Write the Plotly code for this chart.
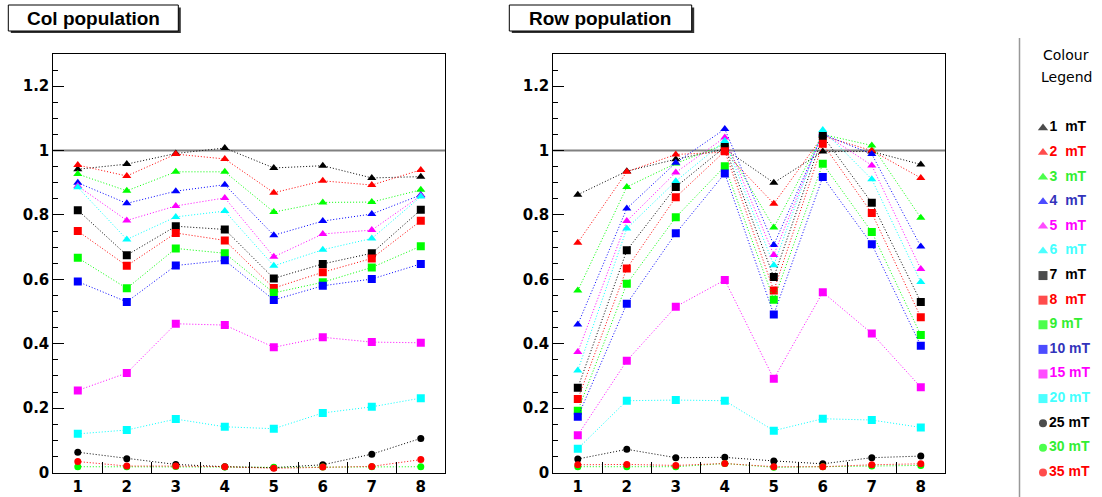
import plotly.graph_objects as go

W, H = 1102, 497

positions = [1, 2, 3, 4, 5, 6, 7, 8]
x_labels = ["1", "2", "3", "4", "5", "6", "7", "8"]
y_ticks = [0, 0.2, 0.4, 0.6, 0.8, 1.0, 1.2]
y_labels = ["0", "0.2", "0.4", "0.6", "0.8", "1", "1.2"]

fields = ["1", "2", "3", "4", "5", "6", "7", "8", "9", "10", "15", "20", "25", "30", "35"]
legend_labels = ["1\u00a0 mT", "2\u00a0 mT", "3\u00a0 mT", "4\u00a0 mT", "5\u00a0 mT", "6\u00a0 mT",
                 "7\u00a0 mT", "8\u00a0 mT", "9 mT", "10 mT", "15 mT", "20 mT", "25 mT", "30 mT", "35 mT"]
colors = ["#000000", "#ff0000", "#00ff00", "#0000ff", "#ff00ff", "#00ffff",
          "#000000", "#ff0000", "#00ff00", "#0000ff", "#ff00ff", "#00ffff",
          "#000000", "#00ff00", "#ff0000"]
legend_text_colors = ["#000000", "#ff0000", "#33ee33", "#3333bb", "#ff00ff", "#44ffff",
                      "#000000", "#ff0000", "#33ee33", "#3333bb", "#ff00ff", "#44ffff",
                      "#000000", "#33ee33", "#ff0000"]
symbols = ["triangle-up"] * 6 + ["square"] * 6 + ["circle"] * 3

# Col population
col_1 = [0.942, 0.958, 0.991, 1.008, 0.946, 0.953, 0.915, 0.919]
col_2 = [0.955, 0.921, 0.989, 0.974, 0.869, 0.906, 0.893, 0.940]
col_3 = [0.927, 0.875, 0.934, 0.934, 0.809, 0.839, 0.840, 0.878]
col_4 = [0.900, 0.836, 0.874, 0.894, 0.737, 0.781, 0.803, 0.862]
col_5 = [0.890, 0.783, 0.828, 0.853, 0.670, 0.741, 0.753, 0.860]
col_6 = [0.886, 0.724, 0.794, 0.812, 0.642, 0.692, 0.727, 0.857]
col_7 = [0.815, 0.675, 0.765, 0.755, 0.603, 0.648, 0.681, 0.816]
col_8 = [0.750, 0.642, 0.744, 0.721, 0.573, 0.622, 0.665, 0.782]
col_9 = [0.667, 0.572, 0.696, 0.681, 0.558, 0.591, 0.637, 0.703]
col_10 = [0.593, 0.530, 0.643, 0.659, 0.536, 0.580, 0.601, 0.648]
col_15 = [0.255, 0.309, 0.462, 0.458, 0.389, 0.420, 0.405, 0.403]
col_20 = [0.120, 0.132, 0.166, 0.142, 0.136, 0.185, 0.204, 0.231]
col_25 = [0.063, 0.043, 0.025, 0.018, 0.015, 0.024, 0.057, 0.106]
col_30 = [0.018, 0.018, 0.019, 0.017, 0.016, 0.017, 0.018, 0.018]
col_35 = [0.034, 0.020, 0.020, 0.018, 0.013, 0.017, 0.019, 0.040]

# Row population
row_1 = [0.863, 0.936, 0.973, 1.005, 0.900, 0.997, 0.997, 0.957]
row_2 = [0.714, 0.934, 0.988, 0.995, 0.835, 1.045, 1.000, 0.915]
row_3 = [0.565, 0.887, 0.960, 1.020, 0.761, 1.050, 1.016, 0.791]
row_4 = [0.460, 0.820, 0.962, 1.067, 0.707, 1.051, 0.989, 0.702]
row_5 = [0.374, 0.781, 0.932, 1.041, 0.676, 1.055, 0.954, 0.632]
row_6 = [0.317, 0.758, 0.905, 1.030, 0.644, 1.064, 0.911, 0.592]
row_7 = [0.263, 0.690, 0.887, 1.011, 0.607, 1.045, 0.838, 0.530]
row_8 = [0.228, 0.634, 0.855, 0.998, 0.565, 1.021, 0.806, 0.482]
row_9 = [0.192, 0.586, 0.793, 0.951, 0.537, 0.959, 0.747, 0.427]
row_10 = [0.173, 0.524, 0.743, 0.929, 0.491, 0.918, 0.709, 0.394]
row_15 = [0.116, 0.347, 0.515, 0.598, 0.291, 0.560, 0.432, 0.265]
row_20 = [0.074, 0.223, 0.225, 0.223, 0.130, 0.167, 0.163, 0.140]
row_25 = [0.042, 0.072, 0.046, 0.047, 0.036, 0.027, 0.046, 0.051]
row_30 = [0.018, 0.018, 0.018, 0.028, 0.016, 0.018, 0.020, 0.022]
row_35 = [0.024, 0.025, 0.022, 0.028, 0.018, 0.018, 0.024, 0.027]

col_series = [col_1, col_2, col_3, col_4, col_5, col_6, col_7, col_8, col_9, col_10,
              col_15, col_20, col_25, col_30, col_35]
row_series = [row_1, row_2, row_3, row_4, row_5, row_6, row_7, row_8, row_9, row_10,
              row_15, row_20, row_25, row_30, row_35]

legend_index = list(range(len(fields)))

fig = go.Figure()

def msize(sym):
    return {"triangle-up": 8, "square": 8, "circle": 7}[sym]

for panel, series in (("", col_series), ("2", row_series)):
    for i, vals in enumerate(series):
        fig.add_trace(go.Scatter(
            x=positions, y=vals, mode="lines+markers",
            xaxis="x" + panel, yaxis="y" + panel,
            line=dict(color=colors[i], width=1, dash="1px,2px"),
            marker=dict(symbol=symbols[i], size=msize(symbols[i]), color=colors[i],
                        line=dict(width=0)),
            name=fields[i] + " mT", showlegend=False, hoverinfo="skip",
        ))

# legend markers + text
fig.add_trace(go.Scatter(
    x=[0.235] * len(fields), y=legend_index, mode="markers+text",
    xaxis="x3", yaxis="y3",
    marker=dict(symbol=symbols, size=[msize(s) + 1 for s in symbols], color=colors, line=dict(width=0)),
    text=["<b>" + t + "</b>" for t in legend_labels],
    textposition="middle right",
    textfont=dict(family="Liberation Sans, Arial", size=14, color=legend_text_colors),
    showlegend=False, hoverinfo="skip", cliponaxis=False,
))

def px_x(p):
    return p / W

def px_y(p):
    return 1 - p / H

tickfont = dict(family="DejaVu Sans", size=15, color="black", weight="bold")

for ax, dom in (("xaxis", [px_x(53.3), px_x(445.3)]), ("xaxis2", [px_x(553.3), px_x(945.3)])):
    fig.layout[ax] = dict(
        domain=dom, range=[0.5, 8.5], anchor="y" if ax == "xaxis" else "y2",
        tickmode="array", tickvals=positions, ticktext=x_labels, ticks="",
        showgrid=False, zeroline=False, showline=True, mirror=True, automargin=False,
        linecolor="black", linewidth=1, tickfont=tickfont,
        minor=dict(tickmode="array", tickvals=[1.5, 2.5, 3.5, 4.5, 5.5, 6.5, 7.5],
                   ticks="inside", ticklen=11, tickwidth=1, tickcolor="black", showgrid=False),
        fixedrange=True,
    )

for ax, anc in (("yaxis", "x"), ("yaxis2", "x2")):
    fig.layout[ax] = dict(
        domain=[px_y(472.5), px_y(54.0)], range=[0, 1.3], anchor=anc,
        tickmode="array", tickvals=y_ticks, ticktext=y_labels,
        ticks="inside", ticklen=11, tickwidth=1, tickcolor="black",
        showgrid=False, zeroline=False, showline=True, mirror=True, automargin=False,
        linecolor="black", linewidth=1, tickfont=tickfont,
        minor=dict(dtick=0.05, tick0=0, ticks="inside", ticklen=5, tickwidth=1,
                   tickcolor="black", showgrid=False),
        fixedrange=True,
    )

fig.layout["xaxis3"] = dict(domain=[0.93, 1.0], range=[0, 1], visible=False, anchor="y3",
                            automargin=False, fixedrange=True)
fig.layout["yaxis3"] = dict(domain=[0, 1], range=[15.0, -5.2], visible=False, anchor="x3",
                            automargin=False, fixedrange=True)

shapes = []
for xr, yr in (("x domain", "y"), ("x2 domain", "y2")):
    shapes.append(dict(type="line", xref=xr, yref=yr, x0=0, x1=1, y0=1, y1=1,
                       line=dict(color="#808080", width=2), layer="below"))

for x0, x1 in ((8.3, 178.3), (509.3, 691.7)):
    shapes.append(dict(type="rect", xref="paper", yref="paper",
                       x0=px_x(x0 + 2.5), x1=px_x(x1 + 2.5), y0=px_y(33), y1=px_y(7.5),
                       fillcolor="#333333", line=dict(width=0)))
    shapes.append(dict(type="rect", xref="paper", yref="paper",
                       x0=px_x(x0), x1=px_x(x1), y0=px_y(31), y1=px_y(5),
                       fillcolor="white", line=dict(color="black", width=1)))

shapes.append(dict(type="line", xref="paper", yref="paper",
                   x0=px_x(1019.5), x1=px_x(1019.5), y0=px_y(38), y1=0,
                   line=dict(color="#999999", width=1.5)))

annotations = [
    dict(text="<b>Col population</b>", xref="paper", yref="paper", x=px_x(25), y=px_y(18),
         xanchor="left", yanchor="middle", showarrow=False,
         font=dict(family="Liberation Sans, Arial", size=19, color="black")),
    dict(text="<b>Row population</b>", xref="paper", yref="paper", x=px_x(527), y=px_y(18),
         xanchor="left", yanchor="middle", showarrow=False,
         font=dict(family="Liberation Sans, Arial", size=19, color="black")),
    dict(text="Colour", xref="paper", yref="paper", x=px_x(1066), y=px_y(55),
         xanchor="center", yanchor="middle", showarrow=False,
         font=dict(family="DejaVu Sans", size=14, color="black")),
    dict(text="Legend", xref="paper", yref="paper", x=px_x(1066), y=px_y(77),
         xanchor="center", yanchor="middle", showarrow=False,
         font=dict(family="DejaVu Sans", size=14, color="black")),
]

fig.update_layout(
    width=W, height=H, margin=dict(l=0, r=0, t=0, b=0, autoexpand=False),
    paper_bgcolor="white", plot_bgcolor="white",
    shapes=shapes, annotations=annotations, showlegend=False,
)

post = "document.body.style.margin='0';document.body.style.overflow='hidden';"

fig.write_html("out.html", config={"displayModeBar": False}, post_script=post)
